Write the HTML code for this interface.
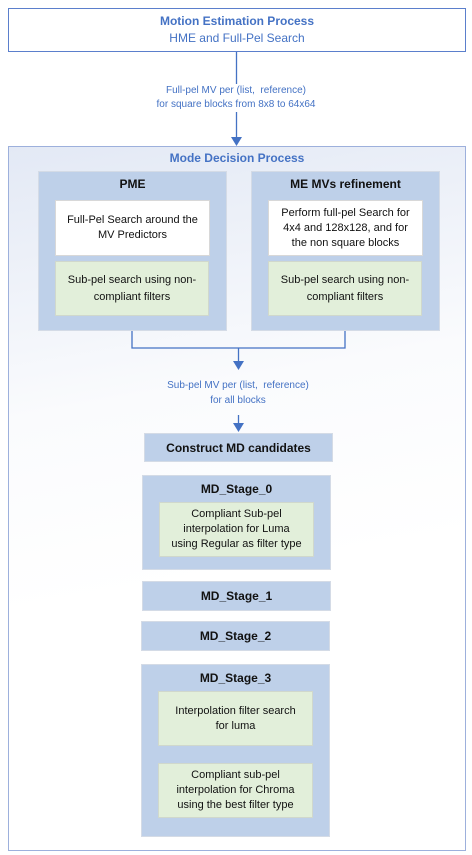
<!DOCTYPE html>
<html><head><meta charset="utf-8"><style>
*{margin:0;padding:0;box-sizing:border-box}
body{width:472px;height:855px;background:#fff;position:relative;font-family:"Liberation Sans",sans-serif;overflow:hidden}
.a{position:absolute}
.c{display:flex;align-items:center;justify-content:center;text-align:center;flex-direction:column}
.blue{background:#bed0e9;border:1px solid #d4dbe6}
.grn{background:#e2efda;border:1px solid #d0d8cc;font-size:11px;color:#111;line-height:15px;white-space:nowrap}
.wh{background:#fff;border:1px solid #d8d8d8;font-size:11px;color:#111;line-height:15px;white-space:nowrap}
.t{font-weight:bold;font-size:12px;color:#111}
.lbl{font-size:10px;color:#4472c4;text-align:center;line-height:14px;white-space:nowrap}
</style></head><body>
<div class="a c" style="left:8px;top:8px;width:458px;height:44px;border:1.3px solid #5b7fcc;color:#4472c4;font-size:12px;line-height:17px">
<div style="font-weight:bold">Motion Estimation Process</div><div>HME and Full-Pel Search</div></div>
<div class="a" style="left:8px;top:146px;width:458px;height:705px;border:1.3px solid #9db0dc;background:linear-gradient(170deg,#e3e9f5 0%,#fafbfd 35%,#fff 60%)"></div>
<svg class="a" style="left:0;top:0" width="472" height="855">
<g stroke="#4472c4" stroke-width="1.3" fill="none">
<line x1="236.5" y1="52" x2="236.5" y2="84"/><line x1="236.5" y1="112" x2="236.5" y2="138"/>
<polyline points="132,330 132,348 345,348 345,330"/>
<line x1="238.5" y1="348" x2="238.5" y2="363"/>
<line x1="238.5" y1="415" x2="238.5" y2="425"/>
</g>
<g fill="#4472c4">
<polygon points="231,137 242,137 236.5,146"/>
<polygon points="233,361 244,361 238.5,370"/>
<polygon points="233,423 244,423 238.5,432"/>
</g></svg>
<div class="a lbl" style="left:126px;top:84px;width:220px">Full-pel MV per (list,&nbsp; reference)<br>for square blocks from 8x8 to 64x64</div>
<div class="a lbl" style="left:128px;top:378px;width:220px;line-height:15px">Sub-pel MV per (list,&nbsp; reference)<br>for all blocks</div>
<div class="a" style="left:8px;top:151px;width:458px;text-align:center;font-weight:bold;font-size:12px;color:#4472c4">Mode Decision Process</div>

<div class="a blue" style="left:38px;top:171px;width:189px;height:160px"></div>
<div class="a t" style="left:38px;top:177px;width:189px;text-align:center">PME</div>
<div class="a wh c" style="left:55px;top:200px;width:155px;height:56px">Full-Pel Search around the<br>MV Predictors</div>
<div class="a grn c" style="left:55px;top:261px;width:154px;height:55px;line-height:17px">Sub-pel search using non-<br>compliant filters</div>

<div class="a blue" style="left:251px;top:171px;width:189px;height:160px"></div>
<div class="a t" style="left:251px;top:177px;width:189px;text-align:center">ME MVs refinement</div>
<div class="a wh c" style="left:268px;top:200px;width:155px;height:56px">Perform full-pel Search for<br>4x4 and 128x128, and for<br>the non square blocks</div>
<div class="a grn c" style="left:268px;top:261px;width:154px;height:55px;line-height:17px">Sub-pel search using non-<br>compliant filters</div>

<div class="a blue c t" style="left:144px;top:433px;width:189px;height:29px">Construct MD candidates</div>

<div class="a blue" style="left:142px;top:475px;width:189px;height:95px"></div>
<div class="a t" style="left:142px;top:482px;width:189px;text-align:center">MD_Stage_0</div>
<div class="a grn c" style="left:159px;top:502px;width:155px;height:55px">Compliant Sub-pel<br>interpolation for Luma<br>using Regular as filter type</div>

<div class="a blue c t" style="left:142px;top:581px;width:189px;height:30px">MD_Stage_1</div>
<div class="a blue c t" style="left:141px;top:621px;width:189px;height:30px">MD_Stage_2</div>

<div class="a blue" style="left:141px;top:664px;width:189px;height:173px"></div>
<div class="a t" style="left:141px;top:671px;width:189px;text-align:center">MD_Stage_3</div>
<div class="a grn c" style="left:158px;top:691px;width:155px;height:55px">Interpolation filter search<br>for luma</div>
<div class="a grn c" style="left:158px;top:763px;width:155px;height:55px">Compliant sub-pel<br>interpolation for Chroma<br>using the best filter type</div>
</body></html>
